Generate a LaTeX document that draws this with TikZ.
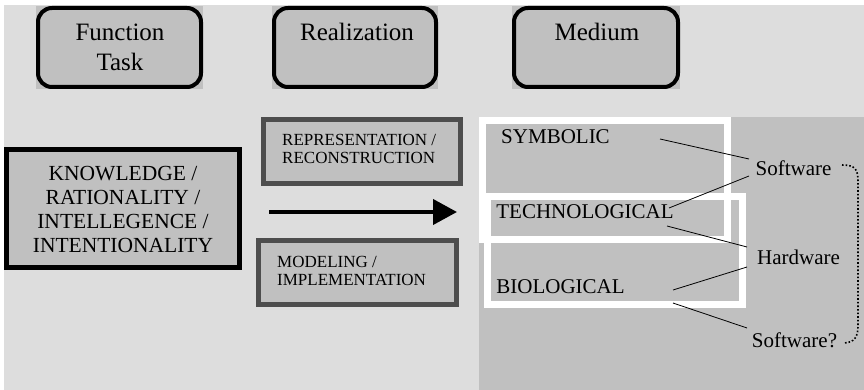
\documentclass[tikz,border=0pt]{standalone}
\usepackage{fontspec}
\setmainfont{Liberation Serif}
\usetikzlibrary{arrows.meta}
\definecolor{bglight}{HTML}{DDDDDD}
\definecolor{boxgray}{HTML}{C0C0C0}
\definecolor{darkframe}{HTML}{4D4D4D}
\tikzset{
  topbox/.style={draw=black, line width=4pt, fill=boxgray, rounded corners=14pt},
  topback/.style={fill=boxgray},
  bigbox/.style={draw=black, line width=5pt, fill=boxgray},
  midbox/.style={draw=darkframe, line width=5pt, fill=boxgray},
  whiteframe/.style={draw=white, line width=7pt},
  toplabel/.style={font=\fontsize{25}{30}\selectfont, align=center, inner sep=0pt},
  biglabel/.style={font=\fontsize{21.5}{24}\selectfont, align=center, inner sep=0pt},
  midlabel/.style={font=\fontsize{17}{18}\selectfont, align=left, inner sep=0pt, anchor=west},
  medlabel/.style={font=\fontsize{21}{24}\selectfont, inner sep=0pt},
  thinline/.style={draw=black, line width=0.8pt},
  bigarrow/.style={draw=black, line width=4pt, -{Triangle[length=24pt,width=25pt]}},
  dotbracket/.style={draw=black, line width=1.6pt, dotted}
}
\begin{document}
\begin{tikzpicture}[x=1pt,y=-1pt]
\useasboundingbox (0,0) rectangle (864,390);
\fill[white] (0,0) rectangle (864,390);
\fill[bglight] (4,5) rectangle (864,390);
\fill[boxgray] (479,117) rectangle (864,390);

% top rounded boxes
\fill[topback] (36,6) rectangle (203,89);
\fill[topback] (272,6) rectangle (438,89);
\fill[topback] (512,6) rectangle (680,89);
\draw[topbox] (38,8) rectangle (201,87);
\draw[topbox] (274,8) rectangle (436,87);
\draw[topbox] (514,8) rectangle (678,87);
\node[toplabel] (func) at (120,47) {Function\\Task};
\node[toplabel] (real) at (357,32) {Realization};
\node[toplabel] (med) at (597,32) {Medium};

% left big box
\draw[bigbox] (6.5,149.5) rectangle (239.5,267.5);
\node[biglabel] (know) at (123,209) {KNOWLEDGE /\\RATIONALITY /\\INTELLEGENCE /\\INTENTIONALITY};

% middle boxes
\draw[midbox] (263.5,119.5) rectangle (460.5,183.5);
\node[midlabel] (repr) at (282,149) {REPRESENTATION /\\RECONSTRUCTION};
\draw[midbox] (258.5,240.5) rectangle (456.5,304.5);
\node[midlabel] (model) at (277,271) {MODELING /\\IMPLEMENTATION};

% arrow
\coordinate (arrS) at (269,212);
\coordinate (arrE) at (457,212);
\draw[bigarrow] (arrS) -- (arrE);

% white frames
\draw[whiteframe] (482.5,120.5) rectangle (727.5,239.5);
\draw[whiteframe] (487.5,196.5) rectangle (742.5,304.5);

\node[medlabel] (symb) at (555.5,137) {SYMBOLIC};
\node[medlabel] (tech) at (585,212) {TECHNOLOGICAL};
\node[medlabel] (bio) at (560.5,287) {BIOLOGICAL};

\node[medlabel] (sw) at (793.5,168) {Software};
\node[medlabel] (hw) at (798.5,257) {Hardware};
\node[medlabel] (swq) at (794.5,340) {Software?};

% connector endpoints
\coordinate (symbR) at (660,139);
\coordinate (techT) at (669,208);
\coordinate (techB) at (667,226);
\coordinate (bioR) at (673,290);
\coordinate (bioB) at (673,303);
\coordinate (swT) at (749,159);
\coordinate (swB) at (749,176);
\coordinate (hwT) at (747,247);
\coordinate (hwB) at (747,267);
\coordinate (swqL) at (747,328);
\coordinate (brT) at (842,165);
\coordinate (brB) at (843,343);

\draw[thinline] (symbR) -- (swT);
\draw[thinline] (techT) -- (swB);
\draw[thinline] (techB) -- (hwT);
\draw[thinline] (bioR) -- (hwB);
\draw[thinline] (bioB) -- (swqL);

\draw[dotbracket] (brT) .. controls (856,165) and (858,170) .. (858,182) -- (858,326) .. controls (858,336) and (855,343) .. (brB);
\end{tikzpicture}
\end{document}
